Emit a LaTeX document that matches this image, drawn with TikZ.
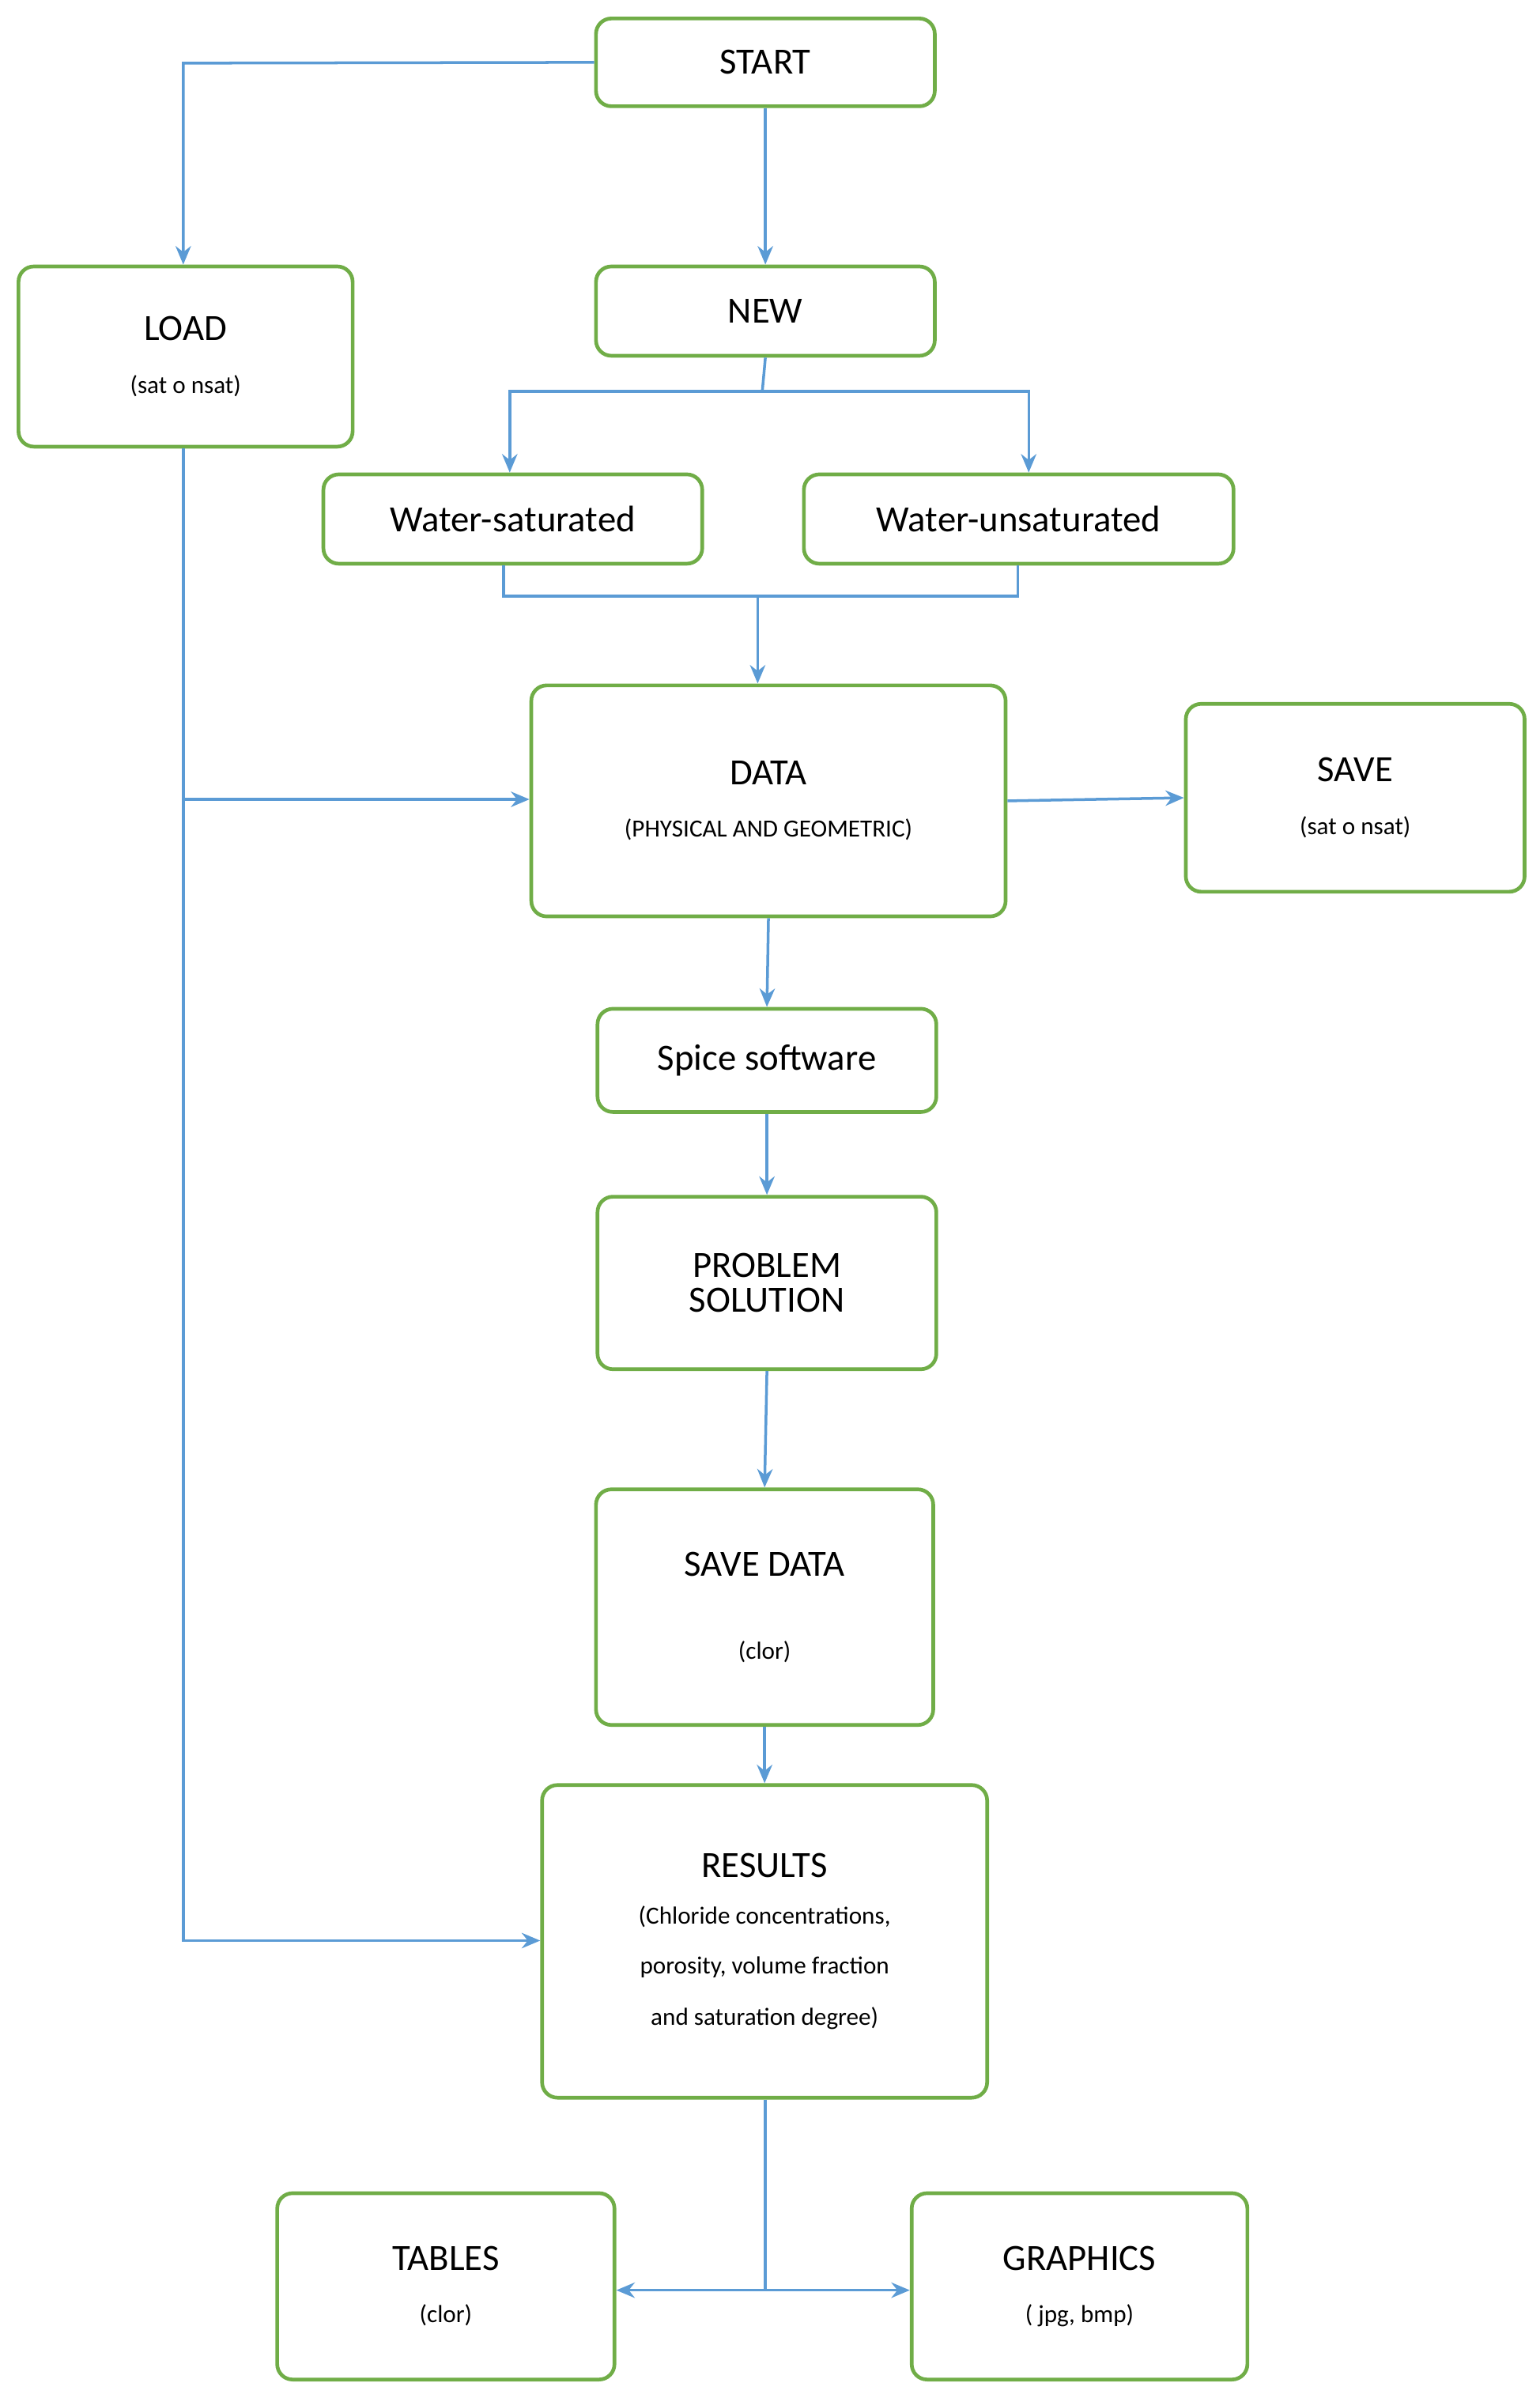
\documentclass[tikz,border=0pt]{standalone}
\usepackage{fontspec}
\setmainfont{Carlito}
\usetikzlibrary{arrows.meta}
\definecolor{gr}{HTML}{70AD47}
\definecolor{bl}{HTML}{5B9BD5}
\newcommand{\B}{\fontsize{24}{29}\selectfont}
\newcommand{\Sm}{\fontsize{16}{19}\selectfont}
\begin{document}
\begin{tikzpicture}[x=1pt,y=-1pt,
  box/.style={draw=gr,line width=2.4pt,rounded corners=10pt,fill=white,align=center,inner sep=0pt},
  ar/.style={draw=bl,line width=1.8pt,-{Stealth[length=12pt,width=10pt]}},
  ln/.style={draw=bl,line width=1.8pt}]
\useasboundingbox (0,0) rectangle (1000,1557);
\newcommand{\bx}[6]{\node[box,minimum width=#4-#2,minimum height=#5-#3] (#1) at ({(#2+#4)/2},{(#3+#5)/2}) {#6};}
\bx{start}{387}{12}{607}{69}{\B START}
\bx{load}{12}{173}{229}{290}{\B LOAD\\[22pt]\Sm (sat o nsat)}
\bx{new}{387}{173}{607}{231}{\B NEW}
\bx{ws}{210}{308}{456}{366}{\B Water-saturated}
\bx{wu}{522}{308}{801}{366}{\B Water-unsaturated}
\bx{data}{345}{445}{653}{595}{\B DATA\\[22pt]\Sm (PHYSICAL AND GEOMETRIC)}
\bx{save}{770}{457}{990}{579}{\B SAVE\\[22pt]\Sm (sat o nsat)}
\bx{spice}{388}{655}{608}{722}{\B Spice software}
\bx{prob}{388}{777}{608}{889}{\B PROBLEM\\[6pt]\B SOLUTION}
\bx{sdata}{387}{967}{606}{1120}{\B SAVE DATA\\[42pt]\Sm (clor)}
\bx{res}{352}{1159}{641}{1362}{\B RESULTS\\[18pt]\Sm (Chloride concentrations,\\[18pt]\Sm porosity, volume fraction\\[18pt]\Sm and saturation degree)}
\bx{tab}{180}{1424}{399}{1545}{\B TABLES\\[22pt]\Sm (clor)}
\bx{gra}{592}{1424}{810}{1545}{\B GRAPHICS\\[22pt]\Sm ( jpg, bmp)}
\coordinate (c1) at (119,41);
\coordinate (c2) at (119,519);
\coordinate (c3) at (119,1260);
\coordinate (n1) at (495,254);
\coordinate (n2) at (331,254);
\coordinate (n3) at (668,254);
\coordinate (w1) at (327,387);
\coordinate (w2) at (661,387);
\coordinate (w3) at (492,387);
\coordinate (r1) at (497,1487);
\draw[ar] (start.west) -- (c1) -- (c1 |- load.north);
\draw[ar] (start.south) -- (new.north);
\draw[ln] (new.south) -- (n1);
\draw[ar] (n1) -- (n2) -- (n2 |- ws.north);
\draw[ar] (n1) -- (n3) -- (n3 |- wu.north);
\draw[ln] (w1 |- ws.south) -- (w1) -- (w2) -- (w2 |- wu.south);
\draw[ar] (w3) -- (w3 |- data.north);
\draw[ar] (c1 |- load.south) -- (c3) -- (c3 -| res.west);
\draw[ar] (c2) -- (c2 -| data.west);
\draw[ar] (data.east) -- (save.west);
\draw[ar] (data.south) -- (spice.north);
\draw[ar] (spice.south) -- (prob.north);
\draw[ar] (prob.south) -- (sdata.north);
\draw[ar] (sdata.south) -- (sdata.south |- res.north);
\draw[ln] (res.south -| r1) -- (r1);
\draw[ar] (r1) -- (r1 -| tab.east);
\draw[ar] (r1) -- (r1 -| gra.west);
\end{tikzpicture}
\end{document}
